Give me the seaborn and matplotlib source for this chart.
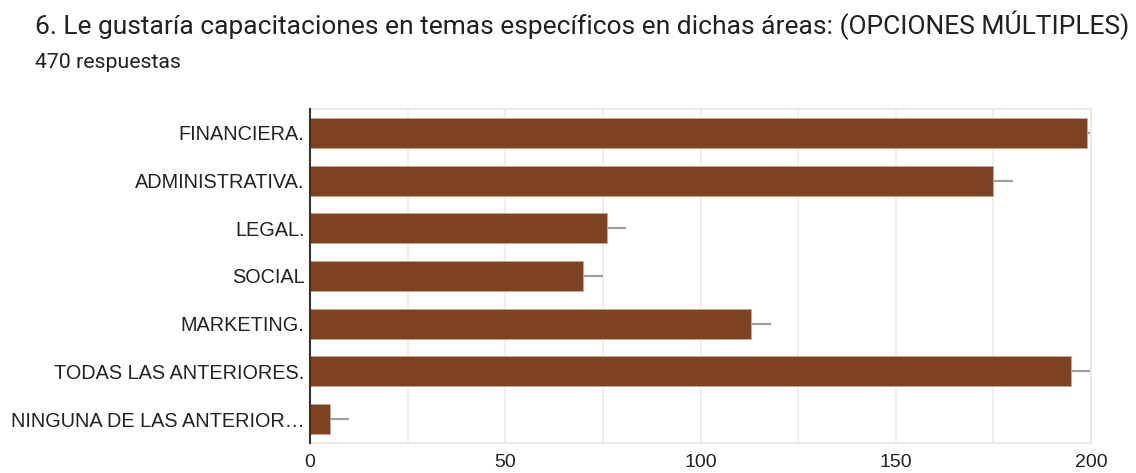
import matplotlib
matplotlib.use("Agg")
import matplotlib.pyplot as plt
import seaborn as sns
import pandas as pd
import numpy as np

categories = ["FINANCIERA.", "ADMINISTRATIVA.", "LEGAL.", "SOCIAL", "MARKETING.",
              "TODAS LAS ANTERIORES.", "NINGUNA DE LAS ANTERIOR…"]
values = [199, 175, 76, 70, 113, 195, 5]
errors = [5, 5, 5, 5, 5, 5, 5]
x_ticks = [0, 50, 100, 150, 200]
title = "6. Le gustaría capacitaciones en temas específicos en dichas áreas: (OPCIONES MÚLTIPLES)"
subtitle = "470 respuestas"

sns.set_theme(style="white")
plt.rcParams['font.family'] = ['Liberation Sans', 'DejaVu Sans']

df = pd.DataFrame({"cat": categories, "val": values})

fig = plt.figure(figsize=(11.36, 4.73), dpi=100)
ax = fig.add_axes([0.2729, 0.0634, 0.6875, 0.7062])

sns.barplot(data=df, y="cat", x="val", orient="h", color="#7E4220",
            saturation=1, width=0.63, ax=ax, edgecolor="#c9a898", linewidth=0.6, zorder=3)

ax.errorbar(values, np.arange(len(values)), xerr=[[0] * len(errors), errors],
            fmt="none", ecolor="#a0a0a0", elinewidth=1.6, capsize=0, zorder=2, clip_on=True)

ax.set_xlim(0, 200)
ax.set_ylim(len(categories) - 0.5, -0.5)
ax.set_xticks(x_ticks)
ax.set_xticks(np.arange(25, 200, 50), minor=True)
ax.set_xticklabels([str(t) for t in x_ticks], fontsize=14, color="#222222")
ax.grid(axis="x", which="both", color="#ebebeb", linewidth=1.2, zorder=0)
ax.set_axisbelow(True)
ax.tick_params(axis="x", which="both", length=0, pad=8)
ax.tick_params(axis="y", length=0, pad=4, labelsize=14.3, labelcolor="#222222")
ax.set_xlabel("")
ax.set_ylabel("")

for s in ["top", "right", "bottom"]:
    ax.spines[s].set_color("#e6e6e6")
    ax.spines[s].set_linewidth(1.2)
ax.spines["left"].set_color("#333333")
ax.spines["left"].set_linewidth(1.5)
ax.spines["left"].set_zorder(5)

fig.text(35 / 1136, 1 - 25 / 473, title, fontsize=19, family=["Roboto", "DejaVu Sans"],
         color="#202124", va="center", ha="left")
fig.text(35 / 1136, 1 - 62 / 473, subtitle, fontsize=15.3, family=["Roboto", "DejaVu Sans"],
         color="#202124", va="center", ha="left")

fig.savefig("out.png", dpi=100)
